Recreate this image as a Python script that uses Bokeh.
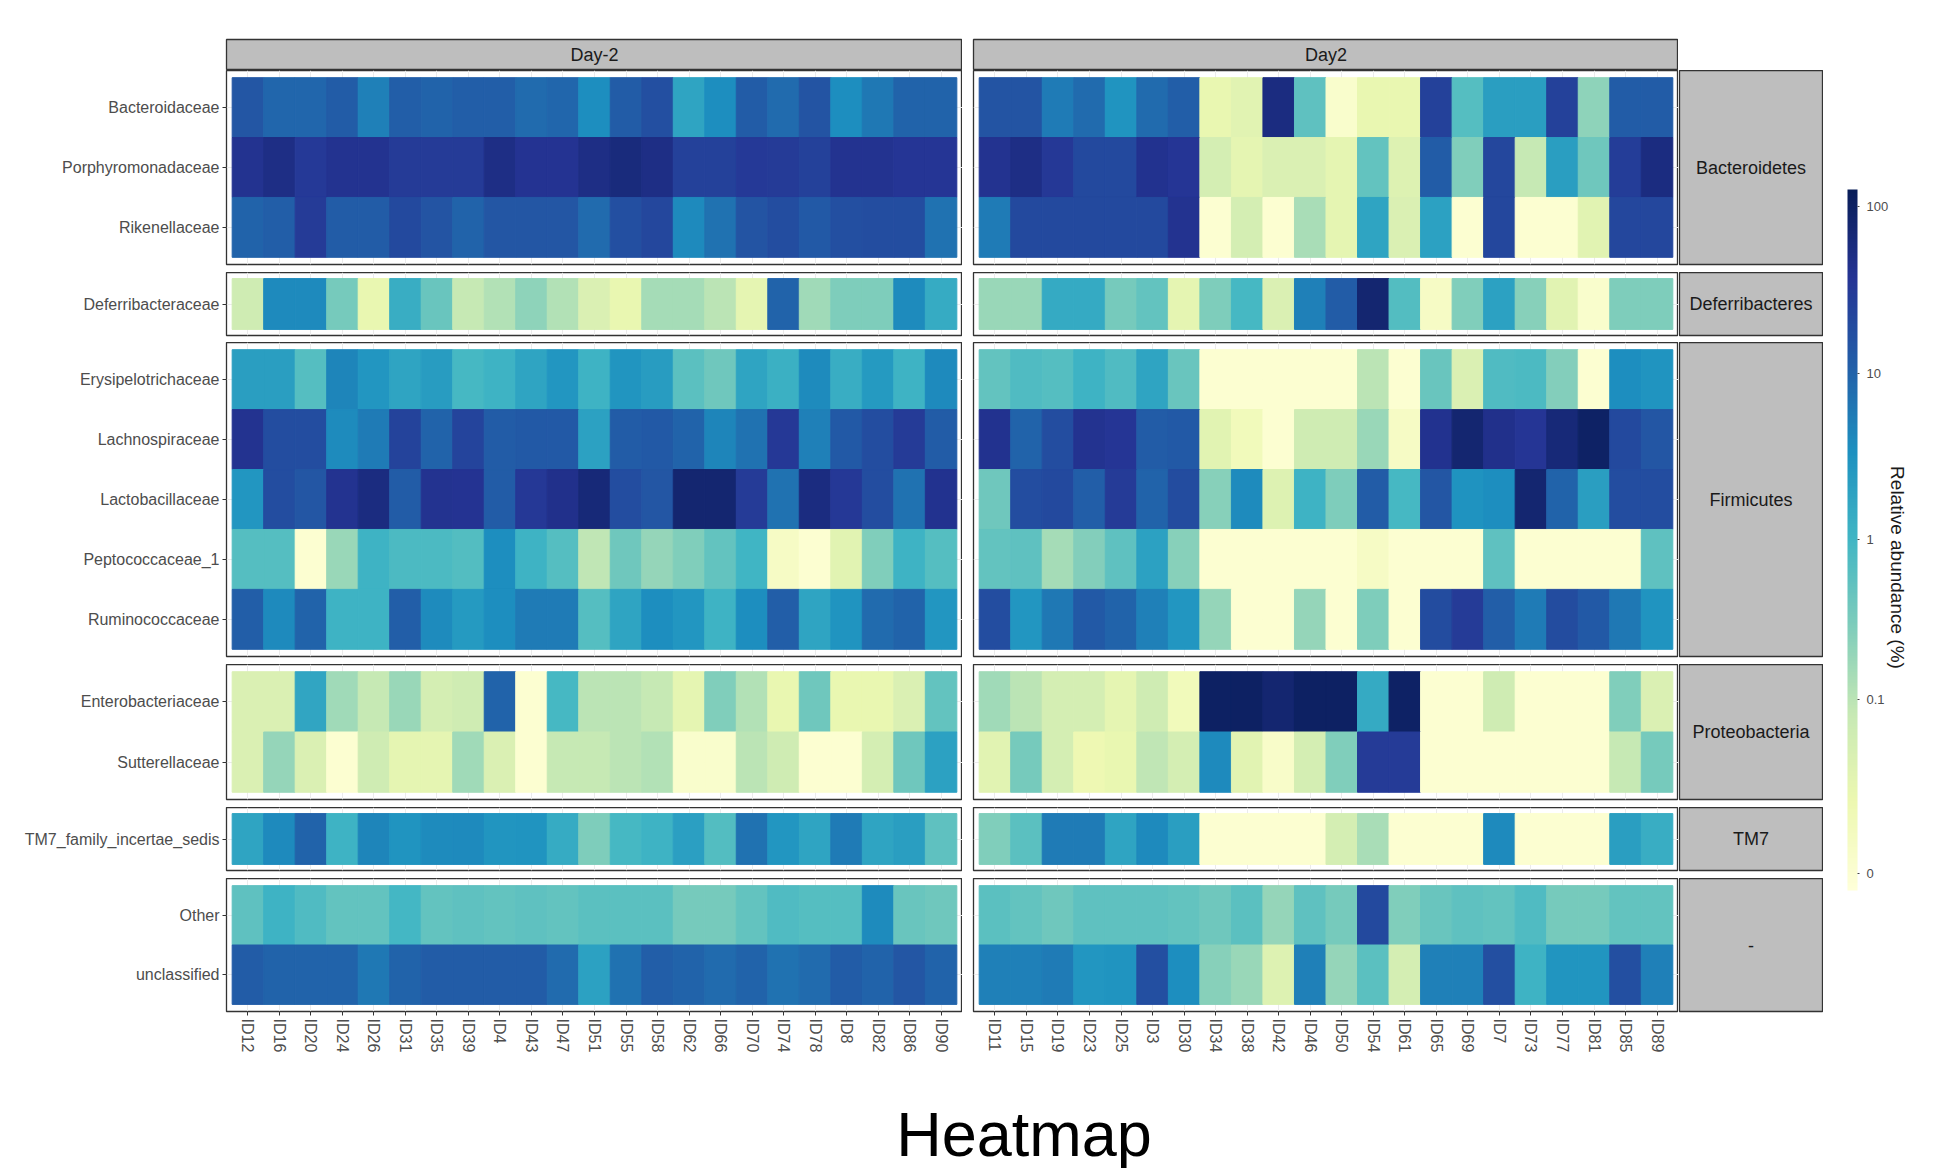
import math
import numpy as np
from bokeh.plotting import figure
from bokeh.models import (ColumnDataSource, LinearColorMapper, ColorBar, FixedTicker,
                          FactorRange, Range1d, Spacer)
from bokeh.layouts import row, column
from bokeh.core.properties import value
from bokeh.embed import file_html
from bokeh.resources import INLINE

FONT = "Liberation Sans"

# ---------------- data ----------------
day_labels = ["Day-2", "Day2"]
samples_dm2 = ["ID12", "ID16", "ID20", "ID24", "ID26", "ID31", "ID35", "ID39", "ID4", "ID43",
               "ID47", "ID51", "ID55", "ID58", "ID62", "ID66", "ID70", "ID74", "ID78", "ID8",
               "ID82", "ID86", "ID90"]
samples_d2 = ["ID11", "ID15", "ID19", "ID23", "ID25", "ID3", "ID30", "ID34", "ID38", "ID42",
              "ID46", "ID50", "ID54", "ID61", "ID65", "ID69", "ID7", "ID73", "ID77", "ID81",
              "ID85", "ID89"]

phyla = ["Bacteroidetes", "Deferribacteres", "Firmicutes", "Proteobacteria", "TM7", "-"]
fam_bacteroidetes = ["Bacteroidaceae", "Porphyromonadaceae", "Rikenellaceae"]
fam_deferribacteres = ["Deferribacteraceae"]
fam_firmicutes = ["Erysipelotrichaceae", "Lachnospiraceae", "Lactobacillaceae",
                  "Peptococcaceae_1", "Ruminococcaceae"]
fam_proteobacteria = ["Enterobacteriaceae", "Sutterellaceae"]
fam_tm7 = ["TM7_family_incertae_sedis"]
fam_other = ["Other", "unclassified"]

# relative abundance (%) — Day-2
bacteroidaceae_m2 = [14, 9, 9, 12, 5, 11, 10, 11, 11, 8, 9, 3.5, 12, 17, 1.8, 3.5, 12, 8, 15, 3.5, 6, 10, 10]
porphyromonadaceae_m2 = [40, 50, 32, 40, 40, 30, 30, 30, 50, 38, 38, 50, 60, 50, 25, 25, 32, 30, 25, 40, 40, 35, 35]
rikenellaceae_m2 = [10, 11, 30, 12, 12, 20, 15, 10, 14, 14, 14, 8, 17, 22, 4, 7, 15, 18, 13, 17, 18, 18, 7]
deferribacteraceae_m2 = [0.06, 4, 4, 0.35, 0.02, 1.3, 0.45, 0.08, 0.12, 0.22, 0.12, 0.04, 0.02, 0.15, 0.15, 0.1, 0.025, 10, 0.16, 0.3, 0.3, 3.8, 1.4]
erysipelotrichaceae_m2 = [2.2, 2.2, 0.65, 4.5, 2.8, 1.8, 2.3, 0.9, 1.1, 1.8, 2.8, 1.1, 2.9, 2.3, 0.6, 0.4, 1.8, 1.2, 3.8, 1.3, 2.5, 1.1, 4]
lachnospiraceae_m2 = [40, 18, 18, 3.8, 5.5, 24, 10, 23, 12, 13, 13, 2, 12, 13, 10, 4.5, 7, 33, 5, 13, 18, 30, 12]
lactobacillaceae_m2 = [2.8, 18, 14, 40, 55, 12, 40, 38, 12, 33, 45, 65, 18, 14, 75, 75, 30, 7, 55, 33, 18, 7, 42]
peptococcaceae_m2 = [0.65, 0.65, 0, 0.18, 1.1, 0.8, 0.8, 0.7, 3.5, 1.1, 0.65, 0.09, 0.4, 0.2, 0.28, 0.5, 1, 0.005, 0, 0.03, 0.28, 1.1, 0.65]
ruminococcaceae_m2 = [11, 4, 10, 1.1, 1.1, 11, 3.8, 2.5, 3.6, 5.5, 5.5, 0.65, 1.8, 3.5, 2.8, 1.1, 3.6, 11, 1.8, 3, 8, 10, 2.8]
enterobacteriaceae_m2 = [0.04, 0.04, 1.7, 0.16, 0.08, 0.18, 0.05, 0.06, 10, 0, 0.9, 0.1, 0.1, 0.08, 0.025, 0.28, 0.12, 0.02, 0.4, 0.02, 0.02, 0.04, 0.5]
sutterellaceae_m2 = [0.04, 0.2, 0.04, 0, 0.06, 0.025, 0.025, 0.16, 0.04, 0, 0.08, 0.08, 0.1, 0.12, 0.002, 0.002, 0.1, 0.06, 0, 0, 0.05, 0.4, 2]
tm7_m2 = [1.8, 4, 10, 1.1, 4.5, 3, 3.8, 4, 2.9, 3, 1.4, 0.3, 0.9, 1.1, 2.1, 0.7, 7, 2.8, 1.8, 5.5, 1.8, 2.2, 0.55]
other_m2 = [0.55, 1.1, 0.75, 0.5, 0.5, 0.95, 0.5, 0.55, 0.5, 0.55, 0.5, 0.6, 0.6, 0.6, 0.35, 0.35, 0.5, 0.75, 0.65, 0.65, 3.8, 0.45, 0.4]
unclassified_m2 = [12, 10, 10, 10, 6, 10, 12, 12, 12, 12, 8, 2, 7, 11, 10, 8, 10, 7, 8, 12, 10, 14, 10]

# relative abundance (%) — Day2
bacteroidaceae_2 = [15, 15, 5.5, 8, 3, 8, 11, 0.02, 0.03, 55, 0.55, 0.002, 0.02, 0.02, 25, 0.65, 2.2, 2.2, 25, 0.22, 12, 12]
porphyromonadaceae_2 = [40, 50, 33, 20, 20, 42, 35, 0.05, 0.025, 0.04, 0.04, 0.025, 0.5, 0.035, 12, 0.28, 22, 0.08, 2.2, 0.4, 28, 55]
rikenellaceae_2 = [5.5, 20, 20, 20, 20, 20, 40, 0, 0.05, 0, 0.14, 0.025, 1.8, 0.04, 2, 0, 22, 0, 0, 0.03, 22, 22]
deferribacteraceae_2 = [0.18, 0.18, 1.5, 1.5, 0.35, 0.5, 0.025, 0.3, 0.9, 0.04, 5, 12, 75, 0.7, 0.005, 0.28, 2, 0.25, 0.03, 0.002, 0.3, 0.3]
erysipelotrichaceae_2 = [0.5, 0.75, 0.65, 1.1, 0.75, 1.8, 0.45, 0, 0, 0, 0, 0, 0.1, 0, 0.45, 0.04, 0.75, 0.8, 0.27, 0, 3.5, 3]
lachnospiraceae_2 = [42, 10, 18, 40, 35, 12, 13, 0.03, 0.01, 0, 0.06, 0.06, 0.18, 0.005, 42, 75, 45, 35, 65, 95, 20, 14]
lactobacillaceae_2 = [0.4, 18, 20, 11, 30, 10, 19, 0.25, 3.8, 0.035, 1.1, 0.3, 12, 0.9, 14, 3.2, 3.5, 75, 10, 2.2, 18, 18]
peptococcaceae_2 = [0.5, 0.55, 0.15, 0.27, 0.55, 2, 0.25, 0, 0, 0, 0, 0, 0.005, 0, 0, 0, 0.55, 0, 0, 0, 0, 0.55]
ruminococcaceae_2 = [18, 2.8, 6, 13, 10, 5, 2.8, 0.2, 0, 0, 0.2, 0, 0.3, 0, 19, 30, 11, 5.5, 19, 13, 6, 3]
enterobacteriaceae_2 = [0.16, 0.1, 0.05, 0.05, 0.025, 0.06, 0.01, 100, 100, 75, 100, 100, 1.5, 95, 0, 0, 0.06, 0, 0, 0, 0.28, 0.04]
sutterellaceae_2 = [0.03, 0.35, 0.05, 0.015, 0.02, 0.09, 0.05, 4, 0.03, 0.003, 0.05, 0.28, 30, 30, 0, 0, 0, 0, 0, 0, 0.08, 0.35]
tm7_2 = [0.28, 0.6, 5.5, 5.5, 1.8, 4, 2.2, 0, 0, 0, 0, 0.05, 0.14, 0, 0, 0, 4, 0, 0, 0, 2.2, 1.3]
other_2 = [0.6, 0.5, 0.4, 0.55, 0.55, 0.55, 0.5, 0.4, 0.6, 0.2, 0.55, 0.35, 20, 0.28, 0.45, 0.55, 0.5, 0.75, 0.35, 0.35, 0.5, 0.5]
unclassified_2 = [5, 5, 5.5, 2.8, 3, 17, 3.5, 0.25, 0.18, 0.035, 5, 0.2, 0.6, 0.05, 5, 5, 17, 1.1, 2.9, 2.9, 17, 5]

legend_breaks = [0, 0.1, 1, 10, 100]
legend_labels = ["0", "0.1", "1", "10", "100"]

# ---------------- assembly ----------------
phylum_families = [fam_bacteroidetes, fam_deferribacteres, fam_firmicutes,
                   fam_proteobacteria, fam_tm7, fam_other]
values = {
    "Bacteroidaceae": (bacteroidaceae_m2, bacteroidaceae_2),
    "Porphyromonadaceae": (porphyromonadaceae_m2, porphyromonadaceae_2),
    "Rikenellaceae": (rikenellaceae_m2, rikenellaceae_2),
    "Deferribacteraceae": (deferribacteraceae_m2, deferribacteraceae_2),
    "Erysipelotrichaceae": (erysipelotrichaceae_m2, erysipelotrichaceae_2),
    "Lachnospiraceae": (lachnospiraceae_m2, lachnospiraceae_2),
    "Lactobacillaceae": (lactobacillaceae_m2, lactobacillaceae_2),
    "Peptococcaceae_1": (peptococcaceae_m2, peptococcaceae_2),
    "Ruminococcaceae": (ruminococcaceae_m2, ruminococcaceae_2),
    "Enterobacteriaceae": (enterobacteriaceae_m2, enterobacteriaceae_2),
    "Sutterellaceae": (sutterellaceae_m2, sutterellaceae_2),
    "TM7_family_incertae_sedis": (tm7_m2, tm7_2),
    "Other": (other_m2, other_2),
    "unclassified": (unclassified_m2, unclassified_2),
}
day_samples = [samples_dm2, samples_d2]


def scale(v):
    return np.log10(np.asarray(v, dtype=float) + 0.01)


ylgnbu9 = ["#ffffd9", "#edf8b1", "#c7e9b4", "#7fcdbb", "#41b6c4",
           "#1d91c0", "#225ea8", "#253494", "#081d58"]


def ramp(colors, n=256):
    rgb = np.array([[int(c[i:i + 2], 16) for i in (1, 3, 5)] for c in colors], dtype=float)
    pos = np.linspace(0, 1, len(colors))
    out = []
    for t in np.linspace(0, 1, n):
        r, g, b = (np.interp(t, pos, rgb[:, k]) for k in range(3))
        out.append("#%02x%02x%02x" % (int(round(r)), int(round(g)), int(round(b))))
    return out


mapper = LinearColorMapper(palette=ramp(ylgnbu9), low=-2.1, high=2.1)

# layout sizes (pixels)
TOP = 39
STRIP_H = 30
frame_heights = [194, 63, 314, 135, 63, 133]
gaps_below = [8, 7, 8, 8, 8, 57]
LEFT_BORDER = 226
W0 = 736
GAP_X = 11
W1 = 705
RS_W = 143
LEG_W = 109
GRAY = "#bebebe"
EDGE = "#333333"


def style_common(p):
    p.background_fill_color = "white"
    p.border_fill_color = "white"


def make_panel(day, fams, frame_h, bottom, is_bottom):
    samples = day_samples[day]
    xs, ys, ts = [], [], []
    for f in fams:
        vals = values[f][day]
        for s, v in zip(samples, vals):
            xs.append(s)
            ys.append(f)
            ts.append(float(scale(v)))
    src = ColumnDataSource(dict(sample=xs, family=ys, t=ts))
    left = LEFT_BORDER if day == 0 else GAP_X
    fw = W0 if day == 0 else W1
    p = figure(x_range=FactorRange(factors=samples, range_padding=0.18, range_padding_units="absolute"),
               y_range=FactorRange(factors=fams[::-1], range_padding=0.12, range_padding_units="absolute"),
               width=left + fw, height=frame_h + bottom,
               min_border_left=left, min_border_right=0, min_border_top=0, min_border_bottom=bottom,
               x_axis_location="below" if is_bottom else None,
               y_axis_location="left" if day == 0 else None,
               output_backend="svg", toolbar_location=None)
    style_common(p)
    p.rect(x="sample", y="family", width=1, height=1, source=src,
           fill_color={"field": "t", "transform": mapper},
           line_color={"field": "t", "transform": mapper}, line_width=1)
    p.grid.grid_line_color = "#ebebeb"
    p.outline_line_color = EDGE
    p.outline_line_width = 1.3
    for ax in p.axis:
        ax.axis_line_color = None
        ax.major_tick_line_color = EDGE
        ax.major_tick_out = 4
        ax.major_tick_in = 0
        ax.minor_tick_line_color = None
        ax.major_label_text_font = FONT
        ax.major_label_text_font_size = "16px"
        ax.major_label_text_color = "#4d4d4d"
        ax.major_label_standoff = 3
    if is_bottom:
        p.xaxis.major_label_orientation = -math.pi / 2
    return p


def make_box(label, width, height, left, right, top, bottom):
    p = figure(x_range=Range1d(0, 1), y_range=Range1d(0, 1), width=width, height=height,
               min_border_left=left, min_border_right=right, min_border_top=top,
               min_border_bottom=bottom, x_axis_location=None, y_axis_location=None,
               output_backend="svg", toolbar_location=None)
    style_common(p)
    p.background_fill_color = GRAY
    p.grid.grid_line_color = None
    p.outline_line_color = EDGE
    p.outline_line_width = 1.3
    p.text(x=[0.5], y=[0.5], text=[label], text_align="center", text_baseline="middle",
           text_font=value(FONT), text_font_size="18px", text_color="#1a1a1a")
    return p


col0 = [make_box(day_labels[0], LEFT_BORDER + W0, TOP + STRIP_H + 1, LEFT_BORDER, 0, TOP, 1)]
col1 = [make_box(day_labels[1], GAP_X + W1, TOP + STRIP_H + 1, GAP_X, 0, TOP, 1)]
col2 = [Spacer(width=RS_W + 2, height=TOP + STRIP_H + 1)]
n = len(phyla)
for i, (ph, fams) in enumerate(zip(phyla, phylum_families)):
    is_bottom = i == n - 1
    col0.append(make_panel(0, fams, frame_heights[i], gaps_below[i], is_bottom))
    col1.append(make_panel(1, fams, frame_heights[i], gaps_below[i], is_bottom))
    col2.append(make_box(ph, RS_W + 2, frame_heights[i] + gaps_below[i], 1, 1, 0, gaps_below[i]))

total_h = TOP + STRIP_H + 1 + sum(frame_heights) + sum(gaps_below)

# legend figure
leg = figure(x_range=Range1d(0, LEG_W), y_range=Range1d(0, total_h), width=LEG_W, height=total_h,
             min_border=0, x_axis_location=None, y_axis_location=None,
             output_backend="svg", toolbar_location=None)
style_common(leg)
leg.grid.grid_line_color = None
leg.outline_line_color = None
bar_top, bar_bottom = 189, 890
cb = ColorBar(color_mapper=mapper,
              ticker=FixedTicker(ticks=[float(scale(b)) for b in legend_breaks]),
              major_label_overrides={float(scale(b)): l for b, l in zip(legend_breaks, legend_labels)},
              width=10, height=bar_bottom - bar_top,
              location=(24, total_h - bar_bottom), padding=0, margin=0,
              major_label_text_font=FONT, major_label_text_font_size="13px",
              major_label_text_color="#4d4d4d", label_standoff=7,
              major_tick_line_color="#444444", major_tick_in=0, major_tick_out=2,
              bar_line_color=None, border_line_color=None, background_fill_alpha=0)
leg.add_layout(cb, "center")
leg.text(x=[74], y=[total_h - 567], text=["Relative abundance (%)"], angle=-math.pi / 2,
         text_align="center", text_baseline="middle", text_font=value(FONT),
         text_font_size="19px", text_color="#1a1a1a")

# title figure
TITLE_H = 1168 - total_h
W_ALL = LEFT_BORDER + W0 + GAP_X + W1 + RS_W + 2 + LEG_W
tf = figure(x_range=Range1d(0, W_ALL), y_range=Range1d(0, TITLE_H), width=W_ALL, height=TITLE_H,
            min_border=0, x_axis_location=None, y_axis_location=None,
            output_backend="svg", toolbar_location=None)
style_common(tf)
tf.grid.grid_line_color = None
tf.outline_line_color = None
tf.text(x=[(LEFT_BORDER + LEFT_BORDER + W0 + GAP_X + W1 + RS_W) / 2], y=[35],
        text=["Heatmap"], text_align="center", text_baseline="alphabetic",
        text_font=value(FONT), text_font_size="63px", text_color="#000000")

layout = column(row(column(*col0), column(*col1), column(*col2), leg), tf)

open("out.html", "w").write(file_html(layout, INLINE, title="Heatmap"))
